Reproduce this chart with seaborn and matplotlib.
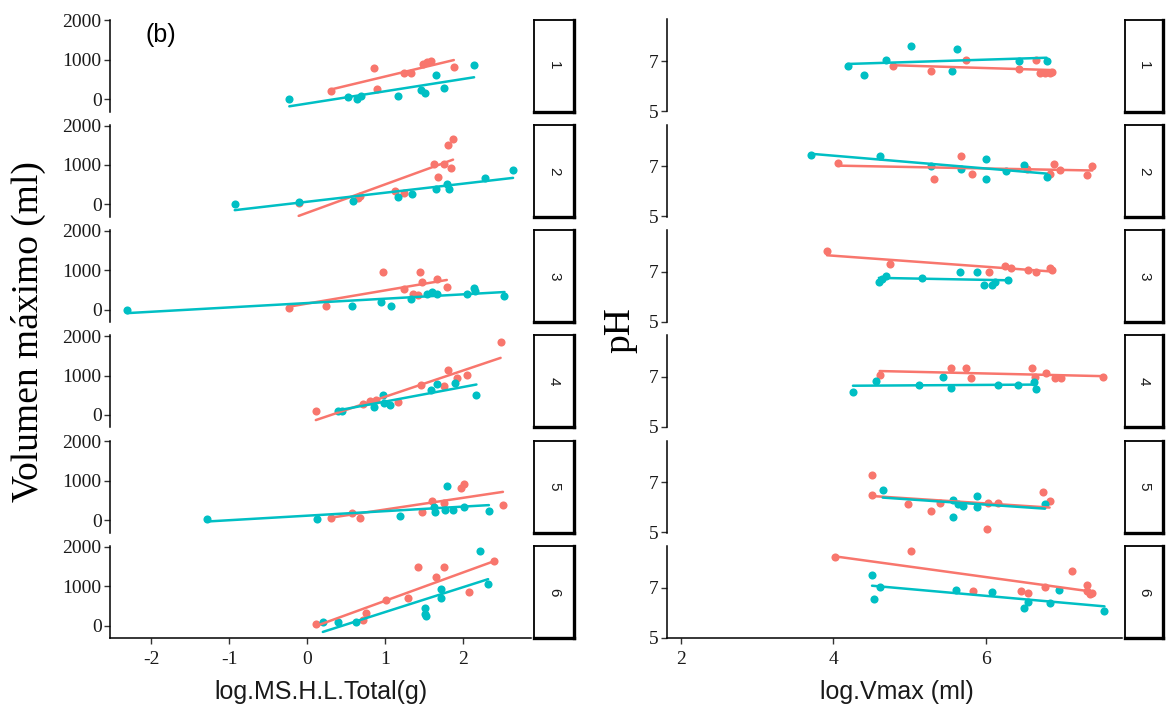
import numpy as np
import pandas as pd
import matplotlib
matplotlib.use("Agg")
import matplotlib.pyplot as plt
import seaborn as sns

sns.set_theme(style="white")
plt.rcParams['font.family'] = ['Liberation Serif', 'DejaVu Serif']

RED = "#F8766D"
TEAL = "#00BFC4"
row_labels = ["1", "2", "3", "4", "5", "6"]
groups = ["A", "B"]

# ---------------- left panel: log.MS.H.L.Total(g) vs Volumen máximo (ml)
ms_red_x = [
    [0.31, 0.855, 0.90, 1.24, 1.33, 1.48, 1.53, 1.59, 1.88],
    [-0.11, 0.65, 0.68, 1.12, 1.24, 1.63, 1.68, 1.75, 1.80, 1.85, 1.87],
    [-0.23, 0.24, 0.97, 1.24, 1.36, 1.42, 1.44, 1.47, 1.66, 1.79],
    [0.11, 0.72, 0.80, 0.88, 1.17, 1.46, 1.76, 1.80, 1.92, 2.05, 2.48],
    [0.31, 0.57, 0.68, 1.47, 1.60, 1.76, 1.97, 2.01, 2.51],
    [0.11, 0.71, 0.76, 1.01, 1.29, 1.42, 1.65, 1.76, 2.08, 2.40],
]
ms_red_y = [
    [197, 781, 266, 652, 652, 884, 930, 970, 815],
    [40, 150, 208, 338, 294, 1030, 700, 1013, 1506, 918, 1654],
    [43, 86, 948, 517, 388, 362, 948, 690, 776, 578],
    [94, 283, 343, 369, 326, 755, 738, 1142, 927, 1013, 1854],
    [67, 193, 67, 218, 487, 445, 823, 908, 387],
    [43, 145, 316, 658, 701, 1496, 1231, 1487, 855, 1641],
]
ms_teal_x = [
    [-0.23, 0.52, 0.64, 0.69, 1.17, 1.46, 1.51, 1.65, 1.76, 2.14],
    [-0.93, -0.11, 0.59, 1.17, 1.35, 1.65, 1.79, 1.82, 2.28, 2.64],
    [-2.31, 0.58, 0.95, 1.08, 1.33, 1.53, 1.60, 1.67, 2.05, 2.14, 2.15, 2.53],
    [0.40, 0.44, 0.86, 0.97, 0.98, 1.06, 1.59, 1.67, 1.90, 2.17],
    [-1.29, 0.13, 1.19, 1.63, 1.64, 1.77, 1.79, 1.87, 2.01, 2.33],
    [0.20, 0.39, 0.63, 1.51, 1.51, 1.52, 1.71, 1.72, 2.21, 2.32],
]
ms_teal_y = [
    [9, 52, 9, 69, 86, 240, 155, 609, 283, 867],
    [17, 52, 95, 190, 268, 398, 511, 398, 658, 874],
    [0, 86, 190, 86, 276, 405, 457, 405, 405, 560, 474, 345],
    [94, 94, 197, 515, 300, 240, 627, 781, 798, 498],
    [25, 25, 109, 336, 218, 252, 866, 252, 336, 235],
    [85, 85, 85, 444, 290, 230, 700, 914, 1897, 1043],
]

# ---------------- right panel: log.Vmax (ml) vs pH
ph_red_x = [
    [4.78, 5.28, 5.74, 6.44, 6.66, 6.72, 6.78, 6.84, 6.87],
    [4.07, 5.32, 5.68, 5.82, 6.55, 6.84, 6.90, 6.97, 7.33, 7.40],
    [3.92, 4.75, 6.05, 6.26, 6.34, 6.56, 6.66, 6.84, 6.87],
    [4.61, 5.54, 5.74, 5.81, 6.61, 6.65, 6.79, 6.91, 6.99, 7.54],
    [4.51, 4.51, 4.98, 5.28, 5.40, 6.02, 6.03, 6.16, 6.75, 6.84],
    [4.03, 5.02, 5.84, 6.46, 6.56, 6.78, 7.14, 7.33, 7.33, 7.37, 7.40],
]
ph_red_y = [
    [6.79, 6.59, 7.05, 6.69, 7.03, 6.52, 6.52, 6.52, 6.56],
    [7.14, 6.51, 7.43, 6.71, 6.91, 6.71, 7.08, 6.84, 6.64, 7.00],
    [7.82, 7.29, 7.00, 7.22, 7.13, 7.07, 6.97, 7.13, 7.07],
    [7.09, 7.35, 7.35, 6.94, 7.35, 7.00, 7.15, 6.96, 6.96, 7.00],
    [7.29, 6.47, 6.12, 5.84, 6.17, 5.13, 6.17, 6.17, 6.61, 6.25],
    [8.24, 8.46, 6.86, 6.86, 6.79, 7.03, 7.65, 7.09, 6.87, 6.76, 6.80],
]
ph_teal_x = [
    [4.19, 4.40, 4.70, 5.02, 5.56, 5.63, 6.44, 6.80],
    [3.71, 4.61, 5.28, 5.68, 6.00, 6.00, 6.27, 6.50, 6.80],
    [4.60, 4.64, 4.70, 5.17, 5.66, 5.89, 5.98, 6.08, 6.13, 6.29],
    [4.26, 4.56, 5.12, 5.44, 5.54, 6.16, 6.42, 6.64, 6.66],
    [4.65, 5.57, 5.57, 5.64, 5.70, 5.89, 5.89, 6.78],
    [4.51, 4.54, 4.61, 5.61, 6.08, 6.50, 6.56, 6.84, 6.96, 7.56],
]
ph_teal_y = [
    [6.79, 6.45, 7.03, 7.59, 6.59, 7.49, 6.99, 7.00],
    [7.47, 7.41, 7.00, 6.91, 7.28, 6.51, 6.80, 7.07, 6.58],
    [6.57, 6.71, 6.83, 6.74, 7.00, 7.00, 6.45, 6.45, 6.57, 6.65],
    [6.38, 6.83, 6.66, 7.00, 6.57, 6.66, 6.66, 6.79, 6.51],
    [6.67, 6.28, 5.62, 6.12, 6.04, 6.45, 6.01, 6.12],
    [7.51, 6.53, 7.03, 6.90, 6.83, 6.18, 6.44, 6.37, 6.90, 6.05],
]

left_xticks = [-2, -1, 0, 1, 2]
left_yticks = [0, 1000, 2000]
right_xticks = [2, 4, 6]
right_yticks = [5, 7]


def build(rx, ry, tx, ty):
    recs = []
    for i, lab in enumerate(row_labels):
        for x, y in zip(rx[i], ry[i]):
            recs.append((lab, groups[0], x, y))
        for x, y in zip(tx[i], ty[i]):
            recs.append((lab, groups[1], x, y))
    return pd.DataFrame(recs, columns=["fila", "grupo", "x", "y"])


df_left = build(ms_red_x, ms_red_y, ms_teal_x, ms_teal_y)
df_right = build(ph_red_x, ph_red_y, ph_teal_x, ph_teal_y)

W, H = 1168, 709
fig = plt.figure(figsize=(W / 100, H / 100), dpi=100)
fig.patch.set_facecolor("white")

row_top0 = 19.5
row_step = 105.3
row_h = 92.0
palette = {groups[0]: RED, groups[1]: TEAL}
TICK_FS = 14

panels = [
    dict(df=df_left, x0=110, x1=531, s0=534, s1=574, xlim=(-2.53, 2.87),
         ylim=(-317, 2018), xticks=left_xticks, yticks=left_yticks),
    dict(df=df_right, x0=667, x1=1122, s0=1125, s1=1163, xlim=(1.82, 7.79),
         ylim=(4.98, 8.66), xticks=right_xticks, yticks=right_yticks),
]

for p in panels:
    for i, lab in enumerate(row_labels):
        top = row_top0 + i * row_step
        ax = fig.add_axes([p["x0"] / W, 1 - (top + row_h) / H,
                           (p["x1"] - p["x0"]) / W, row_h / H])
        sub = p["df"][p["df"]["fila"] == lab]
        for g in groups:
            d = sub[sub["grupo"] == g]
            sns.regplot(data=d, x="x", y="y", ax=ax, fit_reg=False,
                        color=palette[g],
                        scatter_kws=dict(s=34, linewidths=0, alpha=1, zorder=3))
        for g in groups:
            d = sub[sub["grupo"] == g]
            sns.regplot(data=d, x="x", y="y", ax=ax, scatter=False, ci=None,
                        color=palette[g], line_kws=dict(lw=1.8, zorder=4))
        ax.set_xlim(*p["xlim"])
        ax.set_ylim(*p["ylim"])
        ax.set_xlabel("")
        ax.set_ylabel("")
        ax.set_yticks(p["yticks"])
        ax.set_yticklabels([str(t) for t in p["yticks"]], fontsize=TICK_FS,
                           color="#1a1a1a")
        for s in ["top", "right"]:
            ax.spines[s].set_visible(False)
        ax.spines["left"].set_color("black")
        ax.spines["left"].set_linewidth(1.1)
        ax.tick_params(axis="y", length=4, width=1, color="#333333",
                       pad=2, left=True)
        if i == len(row_labels) - 1:
            ax.set_xticks(p["xticks"])
            ax.set_xticklabels([str(t) for t in p["xticks"]], fontsize=TICK_FS,
                               color="#1a1a1a")
            ax.spines["bottom"].set_color("black")
            ax.spines["bottom"].set_linewidth(1.1)
            ax.tick_params(axis="x", length=4, width=1, color="#333333",
                           pad=5, bottom=True)
        else:
            ax.set_xticks([])
            ax.spines["bottom"].set_visible(False)
        ax.grid(False)
        ax.set_facecolor("white")

        # strip
        sx = fig.add_axes([p["s0"] / W, 1 - (top + row_h) / H,
                           (p["s1"] - p["s0"]) / W, row_h / H])
        sx.set_xticks([])
        sx.set_yticks([])
        sx.set_facecolor("white")
        for s in sx.spines.values():
            s.set_visible(True)
            s.set_color("black")
            s.set_linewidth(1.3)
        sx.spines["right"].set_linewidth(2.4)
        sx.spines["bottom"].set_linewidth(2.4)
        sx.text(0.5, 0.5, lab, rotation=-90, ha="center", va="center",
                fontsize=11, family=["Liberation Sans", "DejaVu Sans"],
                color="#1a1a1a", transform=sx.transAxes)

# axis titles
fig.text(321 / W, 1 - 692 / H, "log.MS.H.L.Total(g)", ha="center", va="center",
         fontsize=18, family=["Liberation Sans", "DejaVu Sans"], color="#1a1a1a")
fig.text(897 / W, 1 - 692 / H, "log.Vmax (ml)", ha="center", va="center",
         fontsize=18, family=["Liberation Sans", "DejaVu Sans"], color="#1a1a1a")
fig.text(28 / W, 1 - 332 / H, "Volumen máximo (ml)", rotation=90, ha="center",
         va="center", fontsize=27, family=["Liberation Serif", "DejaVu Serif"],
         color="black")
fig.text(620 / W, 1 - 330 / H, "pH", rotation=90, ha="center", va="center",
         fontsize=27, family=["Liberation Serif", "DejaVu Serif"], color="black")
fig.text(161 / W, 1 - 35 / H, "(b)", ha="center", va="center", fontsize=18,
         family=["Liberation Sans", "DejaVu Sans"], color="black")

fig.savefig("out.png", dpi=100, facecolor="white")
